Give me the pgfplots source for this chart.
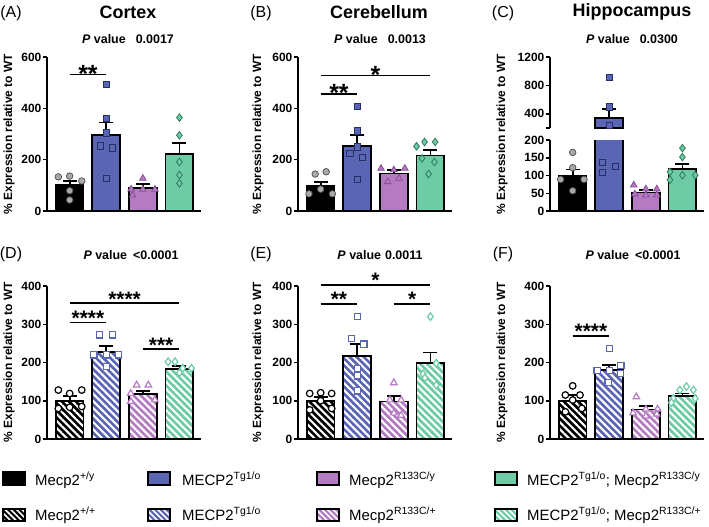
\documentclass[border=0pt]{standalone}
\usepackage{fontspec}
\setmainfont{Liberation Sans}
\usepackage{pgfplots}
\pgfplotsset{compat=1.18}
\usetikzlibrary{patterns.meta}

\definecolor{cblue}{HTML}{5A66B4}
\definecolor{cpurp}{HTML}{B47AC2}
\definecolor{cgreen}{HTML}{6DCBA6}
\definecolor{cgrey}{HTML}{A9A9A9}
\definecolor{cpurpd}{HTML}{8A4E98}
\definecolor{cgreend}{HTML}{2F7A5C}
\definecolor{cblued}{HTML}{262E66}

\tikzset{sig/.style={font=\fontsize{21}{21}\selectfont\bfseries, anchor=base, inner sep=0pt, yshift=-3bp},
  sigbig/.style={sig, font=\fontsize{25}{25}\selectfont\bfseries, yshift=-5bp}}

\pgfplotsset{
 panel/.style={scale only axis, width=154bp, xmin=0.38, xmax=4.59,
   axis x line=bottom, axis y line=left,
   axis line style={-, line width=1.5bp, black},
   every outer x axis line/.append style={-},
   every outer y axis line/.append style={-},
   xtick=\empty, tick align=outside, major tick length=4bp,
   ytick style={line width=1.5bp, black},
   yticklabel style={font=\fontsize{12}{12}\selectfont\bfseries, inner sep=1.5bp},
   /pgf/number format/assume math mode=true, clip=false, anchor=south west},
 sbar/.style={ybar, bar width=0.76, bar shift=0pt, draw=black, line width=1.8bp, fill=#1},
 hbar/.style={ybar, bar width=0.76, bar shift=0pt, draw=black, line width=1.8bp,
   preaction={fill=#1},
   pattern={Lines[angle=-45,distance=5bp,line width=2.1bp]}, pattern color=white},
 eb/.style={black, line width=1.8bp, mark=-, mark size=7bp, mark indices={2},
   mark options={solid, line width=1.8bp, black}},
 pk/.style={only marks, mark=*, mark size=3.3bp, mark options={fill=cgrey, draw=black!70, line width=0.7bp}},
 pb/.style={only marks, mark=square*, mark size=3.1bp, mark options={fill=cblue, draw=cblued, line width=0.8bp}},
 pp/.style={only marks, mark=triangle*, mark size=3.8bp, mark options={fill=cpurp, draw=cpurpd, line width=0.8bp}},
 pg/.style={only marks, mark=diamond*, mark size=3.8bp, mark options={fill=cgreen, draw=cgreend, line width=0.8bp}},
 hk/.style={only marks, mark=*, mark size=3.3bp, mark options={fill=white, draw=black, line width=1.2bp}},
 hb/.style={only marks, mark=square*, mark size=3.1bp, mark options={fill=white, draw=cblue, line width=1.2bp}},
 hp/.style={only marks, mark=triangle*, mark size=3.8bp, mark options={fill=white, draw=cpurp, line width=1.2bp}},
 hg/.style={only marks, mark=diamond*, mark size=3.8bp, mark options={fill=white, draw=cgreen, line width=1.2bp}},
}

% bar: colour, x, mean, mean+SEM
\newcommand\SB[4]{\addplot[sbar=#1] coordinates {(#2,#3)};
  \addplot[eb] coordinates {(#2,#3) (#2,#4)};}
\newcommand\HB[4]{\addplot[hbar=#1] coordinates {(#2,#3)};
  \addplot[eb] coordinates {(#2,#3) (#2,#4)};}
\newcommand\SIG[5]{\addplot[black,line width=1.6bp] coordinates {(#1,#4) (#2,#4)};
  \node[sig] at (axis cs:#3,#4) {#5};}
\newcommand\SIGB[5]{\addplot[black,line width=1.6bp] coordinates {(#1,#4) (#2,#4)};
  \node[sigbig] at (axis cs:#3,#4) {#5};}

\begin{document}
\begin{tikzpicture}
\path[use as bounding box] (0,0) rectangle (709bp,-527bp);

% ---------- (A) Cortex
\begin{axis}[panel, at={(47bp,-211bp)}, height=154bp, ymin=0, ymax=600, ytick={0,200,400,600}]
\SB{black}{1}{100}{118}
\SB{cblue}{2}{297}{345}
\SB{cpurp}{3}{89}{106}
\SB{cgreen}{4}{222}{265}
\addplot[pk] coordinates {(0.69,133) (1.0,136) (1.33,117) (1.0,79) (1.0,43)};
\addplot[pb] coordinates {(2,492) (2,360) (2,304) (1.83,254) (2.17,246) (2,127)};
\addplot[pp] coordinates {(3,127) (2.68,85) (2.72,62) (3,84) (3.33,84)};
\addplot[pg] coordinates {(4,364) (4,295) (4,191) (4,140) (4,108)};
\SIGB{1}{2}{1.5}{532}{**}
\end{axis}

% ---------- (B) Cerebellum
\begin{axis}[panel, at={(298bp,-211bp)}, height=154bp, ymin=0, ymax=600, ytick={0,200,400,600}]
\SB{black}{1}{98}{114}
\SB{cblue}{2}{252}{295}
\SB{cpurp}{3}{146}{159}
\SB{cgreen}{4}{216}{237}
\addplot[pk] coordinates {(0.85,144) (1.15,153) (1.0,85) (0.68,67) (1.32,67)};
\addplot[pb] coordinates {(2,408) (2,312) (2,250) (1.8,224) (2.15,209) (2,123)};
\addplot[pp] coordinates {(2.65,166) (3.3,166) (3.0,160) (2.83,114) (3.14,127)};
\addplot[pg] coordinates {(3.84,269) (4.13,269) (3.62,252) (3.77,205) (4.11,191) (3.95,144)};
\SIGB{1}{4}{2.5}{528}{*}
\SIGB{1}{2}{1.5}{457}{**}
\end{axis}

% ---------- (C) Hippocampus, lower segment
\begin{axis}[panel, clip=true, at={(550bp,-211bp)}, height=71bp, ymin=0, ymax=200, ytick={0,50,100,150,200}]
\SB{black}{1}{100}{117}
\SB{cblue}{2}{336}{467}
\SB{cpurp}{3}{52}{59}
\SB{cgreen}{4}{118}{133}
\addplot[pk] coordinates {(1,165) (1,122) (0.67,89) (1.31,89) (1,57)};
\addplot[pb] coordinates {(1.82,136) (1.82,108) (2.17,125)};
\addplot[pp] coordinates {(2.67,73) (3,62) (3.3,62) (2.7,48) (3,45) (3.3,45)};
\addplot[pg] coordinates {(4,177) (4,152) (3.66,110) (4,101) (4.35,101) (3.66,88)};
\end{axis}
% ---------- (C) upper segment
\begin{axis}[panel, clip=true, at={(550bp,-128bp)}, height=71bp, ymin=200, ymax=1200,
  axis x line=none, ytick={200,400,800,1200}, yticklabels={,400,800,1200}]
\SB{cblue}{2}{336}{467}
\addplot[pb] coordinates {(2,908) (2,496) (2,242)};
\end{axis}

% ---------- (D)
\begin{axis}[panel, at={(47bp,-439bp)}, height=153bp, ymin=0, ymax=400, ytick={0,100,200,300,400}]
\HB{black}{1}{100}{112}
\HB{cblue}{2}{228}{243}
\HB{cpurp}{3}{118}{125}
\HB{cgreen}{4}{183}{190}
\addplot[hk] coordinates {(0.69,128) (1,119) (1.33,128) (1,83) (1.33,85) (0.69,80)};
\addplot[hb] coordinates {(1.81,272) (2.17,272) (1.66,220) (2,220) (2.33,220) (2,189)};
\addplot[hp] coordinates {(2.83,141) (3.15,141) (2.67,119) (3.33,102) (2.67,98)};
\addplot[hg] coordinates {(3.69,202) (3.88,202) (4.09,185) (4.33,185) (4,173)};
\SIG{1}{4}{2.5}{355}{****}
\SIG{1}{2}{1.5}{305}{****}
\SIG{3}{4}{3.5}{235}{***}
\end{axis}

% ---------- (E)
\begin{axis}[panel, at={(298bp,-439bp)}, height=153bp, ymin=0, ymax=400, ytick={0,100,200,300,400}]
\HB{black}{1}{100}{109}
\HB{cblue}{2}{217}{248}
\HB{cpurp}{3}{98}{113}
\HB{cgreen}{4}{198}{226}
\addplot[hk] coordinates {(0.7,119) (1,121) (1.3,119) (0.7,76) (1.3,80) (1,100)};
\addplot[hb] coordinates {(2,320) (1.84,263) (2.18,248) (2,185) (2,165) (2,126)};
\addplot[hp] coordinates {(3,147) (2.89,102) (3.2,102) (3,68) (3.2,62)};
\addplot[hg] coordinates {(4,320) (4.16,198) (3.8,170) (4.16,141) (3.85,160)};
\SIG{1}{4}{2.5}{403}{*}
\SIG{1}{2}{1.5}{353}{**}
\SIG{3}{4}{3.5}{353}{*}
\end{axis}

% ---------- (F)
\begin{axis}[panel, at={(550bp,-439bp)}, height=153bp, ymin=0, ymax=400, ytick={0,100,200,300,400}]
\HB{black}{1}{100}{115}
\HB{cblue}{2}{180}{193}
\HB{cpurp}{3}{77}{86}
\HB{cgreen}{4}{112}{119}
\addplot[hk] coordinates {(1,139) (0.8,115) (1.2,115) (1,102) (0.8,71) (1.25,80)};
\addplot[hb] coordinates {(2,237) (2.32,192) (1.67,179) (2,179) (2.3,172) (1.97,147)};
\addplot[hp] coordinates {(2.74,110) (3,78) (3.32,78) (2.65,68) (3,60) (3.3,65)};
\addplot[hg] coordinates {(4.11,137) (3.93,128) (4.3,128) (3.75,106) (4.35,106) (3.7,95)};
\SIG{1}{2}{1.5}{270}{****}
\end{axis}

% ---------- texts
\tikzset{plab/.style={font=\fontsize{16}{16}\selectfont},
  ttl/.style={font=\fontsize{18}{18}\selectfont\bfseries},
  pv/.style={font=\fontsize{12.5}{12.5}\selectfont\bfseries},
  ylab/.style={rotate=90, font=\fontsize{12}{12}\selectfont\bfseries},
  leg/.style={anchor=base west, font=\fontsize{15}{15}\selectfont, inner sep=0pt}}
\node[plab] at (11bp,-13bp) {(A)};
\node[plab] at (261bp,-13bp) {(B)};
\node[plab] at (503bp,-13bp) {(C)};
\node[plab] at (11bp,-254bp) {(D)};
\node[plab] at (261bp,-254bp) {(E)};
\node[plab] at (503bp,-254bp) {(F)};
\node[ttl] at (128bp,-12bp) {Cortex};
\node[ttl] at (379bp,-12bp) {Cerebellum};
\node[ttl] at (632bp,-12bp) {Hippocampus};
\node[pv] at (128bp,-39bp) {\textit{P} value\hspace{10bp}0.0017};
\node[pv] at (380bp,-39bp) {\textit{P} value\hspace{10bp}0.0013};
\node[pv] at (632bp,-39bp) {\textit{P} value\hspace{10bp}0.0300};
\node[pv] at (131bp,-255bp) {\textit{P} value\hspace{6bp}<0.0001};
\node[pv] at (380bp,-255bp) {\textit{P} value\hspace{4bp}0.0011};
\node[pv] at (633bp,-255bp) {\textit{P} value\hspace{6bp}<0.0001};
\node[ylab] at (9bp,-134bp) {\% Expression relative to WT};
\node[ylab] at (258bp,-134bp) {\% Expression relative to WT};
\node[ylab] at (502bp,-134bp) {\% Expression relative to WT};
\node[ylab] at (9bp,-362bp) {\% Expression relative to WT};
\node[ylab] at (258bp,-362bp) {\% Expression relative to WT};
\node[ylab] at (502bp,-362bp) {\% Expression relative to WT};

% ---------- legend
\foreach \x/\c in {3/black,148/cblue,317/cpurp,495/cgreen}{
  \draw[line width=1.6bp, fill=\c] (\x bp,-472bp) rectangle ++(22bp,-13bp);
  \draw[line width=1.6bp, preaction={fill=\c}, pattern={Lines[angle=-45,distance=4bp,line width=1.6bp]}, pattern color=white] (\x bp,-509bp) rectangle ++(22bp,-12bp);
}
\node[leg] at (35bp,-485bp) {Mecp2\textsuperscript{+/y}};
\node[leg] at (182bp,-485bp) {MECP2\textsuperscript{Tg1/o}};
\node[leg] at (349bp,-485bp) {Mecp2\textsuperscript{R133C/y}};
\node[leg] at (527bp,-485bp) {MECP2\textsuperscript{Tg1/o}; Mecp2\textsuperscript{R133C/y}};
\node[leg] at (35bp,-520bp) {Mecp2\textsuperscript{+/+}};
\node[leg] at (182bp,-520bp) {MECP2\textsuperscript{Tg1/o}};
\node[leg] at (349bp,-520bp) {Mecp2\textsuperscript{R133C/+}};
\node[leg] at (527bp,-520bp) {MECP2\textsuperscript{Tg1/o}; Mecp2\textsuperscript{R133C/+}};
\end{tikzpicture}
\end{document}
